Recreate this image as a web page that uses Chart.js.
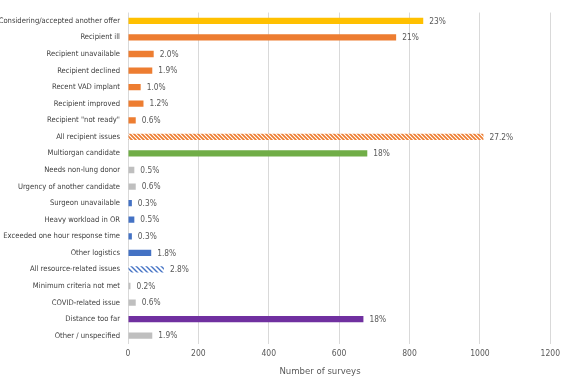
<!DOCTYPE html>
<html>
<head>
<meta charset="utf-8">
<script src="https://cdn.jsdelivr.net/npm/chart.js@4"></script>
<style>
  html, body { margin: 0; padding: 0; background: #ffffff; }
  #wrap { width: 565px; height: 378px; position: relative; }
</style>
</head>
<body>
<div id="wrap"><canvas id="chart"></canvas></div>
<script>
// Categories (top to bottom)
const reasons = [
    'Considering/accepted another offer',
    'Recipient ill',
    'Recipient unavailable',
    'Recipient declined',
    'Recent VAD implant',
    'Recipient improved',
    'Recipient "not ready"',
    'All recipient issues',
    'Multiorgan candidate',
    'Needs non-lung donor',
    'Urgency of another candidate',
    'Surgeon unavailable',
    'Heavy workload in OR',
    'Exceeded one hour response time',
    'Other logistics',
    'All resource-related issues',
    'Minimum criteria not met',
    'COVID-related issue',
    'Distance too far',
    'Other / unspecified'
];

// Number of surveys
const surveys = [839, 762, 73, 69, 36, 44, 22, 1010, 680, 18, 22, 11, 18, 11, 66, 102, 7, 22, 669, 69];

// Percent labels shown next to each bar
const percentLabels = ['23%', '21%', '2.0%', '1.9%', '1.0%', '1.2%', '0.6%', '27.2%', '18%', '0.5%',
    '0.6%', '0.3%', '0.5%', '0.3%', '1.8%', '2.8%', '0.2%', '0.6%', '18%', '1.9%'];

// Colour group per bar
const groups = ['offer', 'recipient', 'recipient', 'recipient', 'recipient', 'recipient', 'recipient',
    'recipientAll', 'multiorgan', 'other', 'other', 'resource', 'resource', 'resource', 'resource',
    'resourceAll', 'other', 'other', 'distance', 'other'];

const xTicks = [0, 200, 400, 600, 800, 1000, 1200];
const xTitle = 'Number of surveys';

/**
 * Build a diagonal hatch pattern ("\" direction)
 */
function makeHatch(color, period, lineWidth) {
    const c = document.createElement('canvas');
    c.width = period;
    c.height = period;
    const g = c.getContext('2d');
    g.fillStyle = '#ffffff';
    g.fillRect(0, 0, period, period);
    g.strokeStyle = color;
    g.lineWidth = lineWidth;
    g.beginPath();
    g.moveTo(-1, -1); g.lineTo(period + 1, period + 1);
    g.moveTo(-period - 1, -1); g.lineTo(1, period + 1);
    g.moveTo(period - 1, -1); g.lineTo(2 * period + 1, period + 1);
    g.stroke();
    return g.createPattern(c, 'repeat');
}

const palette = {
    offer: '#FFC000',
    recipient: '#ED7D31',
    recipientAll: makeHatch('#ED7D31', 4, 1.7),
    multiorgan: '#70AD47',
    other: '#BFBFBF',
    resource: '#4472C4',
    resourceAll: makeHatch('#4472C4', 5, 1.4),
    distance: '#7030A0'
};

const FONT = "'Liberation Sans Narrow', 'DejaVu Sans Condensed', 'Liberation Sans', sans-serif";

// Draws percent labels and the axis title
const labelPlugin = {
    id: 'barLabels',
    afterDatasetsDraw(chart) {
        const ctx = chart.ctx;
        const meta = chart.getDatasetMeta(0);
        ctx.save();
        ctx.font = '8.3px ' + FONT;
        ctx.fillStyle = '#595959';
        ctx.textAlign = 'left';
        ctx.textBaseline = 'middle';
        meta.data.forEach((bar, i) => {
            ctx.fillText(percentLabels[i], bar.x + 6, bar.y + 0.5);
        });
        ctx.font = '9.5px ' + FONT;
        ctx.textAlign = 'center';
        ctx.fillText(xTitle, 320, 372);
        ctx.restore();
    }
};

const ctx = document.getElementById('chart').getContext('2d');
new Chart(ctx, {
    type: 'bar',
    data: {
        labels: reasons,
        datasets: [{
            data: surveys,
            backgroundColor: groups.map(g => palette[g]),
            borderWidth: 0,
            categoryPercentage: 1,
            barPercentage: 0.38
        }]
    },
    options: {
        indexAxis: 'y',
        responsive: true,
        maintainAspectRatio: false,
        animation: false,
        layout: { padding: { left: 0, right: 9, top: 0, bottom: 0 } },
        plugins: {
            legend: { display: false },
            tooltip: { enabled: false }
        },
        scales: {
            x: {
                min: 0,
                max: 1200,
                afterBuildTicks: scale => { scale.ticks = xTicks.map(v => ({ value: v })); },
                afterFit: scale => { scale.height = 34; },
                grid: { color: '#D9D9D9', drawTicks: false },
                border: { display: false },
                ticks: {
                    padding: 5,
                    color: '#595959',
                    font: { family: FONT, size: 8.5 },
                    callback: v => String(v)
                }
            },
            y: {
                afterFit: scale => { scale.width = 128; },
                grid: { display: false, drawTicks: false },
                border: { display: false },
                ticks: {
                    padding: 8,
                    autoSkip: false,
                    color: '#404040',
                    font: { family: FONT, size: 7.6 }
                }
            }
        }
    },
    plugins: [labelPlugin]
});
</script>
</body>
</html>
